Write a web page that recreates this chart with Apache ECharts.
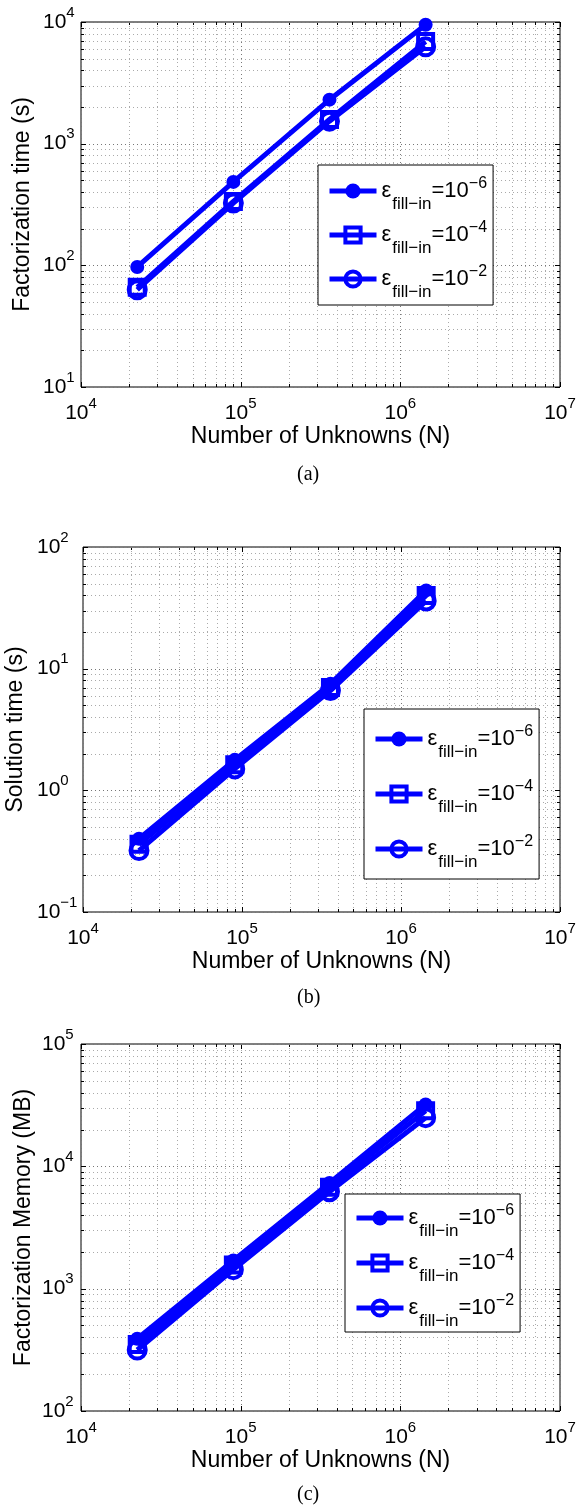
<!DOCTYPE html>
<html>
<head>
<meta charset="utf-8">
<script src="https://cdn.jsdelivr.net/npm/echarts@6/dist/echarts.min.js"></script>
<style>
html, body { margin: 0; padding: 0; background: #fff; }
#chart { width: 578px; height: 1507px; }
</style>
</head>
<body>
<div id="chart"></div>
<script>
// number of unknowns, same for every panel
var unknowns = [22500, 90000, 360000, 1440000];

// (a) factorization time (s)
var factTime6 = [97, 485, 2300, 9500];
var factTime4 = [66, 335, 1580, 6900];
var factTime2 = [63, 325, 1530, 6250];

// (b) solution time (s)
var solTime6 = [0.40, 1.78, 7.5, 44];
var solTime4 = [0.36, 1.62, 7.0, 40];
var solTime2 = [0.32, 1.50, 6.6, 36];

// (c) factorization memory (MB)
var memory6 = [390, 1700, 7300, 32000];
var memory4 = [350, 1560, 6750, 28500];
var memory2 = [315, 1430, 6200, 25000];

var seriesNames = ['fill6', 'fill4', 'fill2'];
var legendExp = ['\u22126', '\u22124', '\u22122'];
var minorSteps = [2, 3, 4, 5, 6, 7, 8, 9];

var BLUE = '#0000ff';
var FONT = 'Liberation Sans, Arial, Helvetica, sans-serif';

var panels = [
    { left: 81, top: 22, width: 479, height: 365, xExp: [4, 7], yExp: [1, 4],
      yName: 'Factorization time (s)', yNameGap: 45, yLabelMargin: 38,
      data: [factTime6, factTime4, factTime2],
      legend: { left: 318, top: 165, pad: 4, gap: 0 },
      caption: '(a)', captionTop: 465 },
    { left: 83, top: 547, width: 477, height: 365, xExp: [4, 7], yExp: [-1, 2],
      yName: 'Solution time (s)', yNameGap: 54, yLabelMargin: 46,
      data: [solTime6, solTime4, solTime2],
      legend: { left: 364, top: 709, pad: 8, gap: 11 },
      caption: '(b)', captionTop: 988 },
    { left: 81, top: 1044, width: 479, height: 367, xExp: [4, 7], yExp: [2, 5],
      yName: 'Factorization Memory (MB)', yNameGap: 44, yLabelMargin: 39,
      data: [memory6, memory4, memory2],
      legend: { left: 345, top: 1194, pad: 2, gap: 1 },
      caption: '(c)', captionTop: 1485 }
];

function powLabel(v) {
    var e = Math.round(Math.log10(v));
    return '{b|10}{s|' + (e < 0 ? '\u2212' + (-e) : e) + '}';
}

var labelRich = {
    b: { fontSize: 21, fontFamily: FONT, color: '#000', lineHeight: 34 },
    s: { fontSize: 15, fontFamily: FONT, color: '#000', lineHeight: 34, padding: [0, 0, 19, 0] }
};

function logTicks(range) {
    var out = [];
    for (var k = range[0]; k < range[1]; k++) {
        out.push([Math.pow(10, k), 1]);
        minorSteps.forEach(function (m) { out.push([m * Math.pow(10, k), 0]); });
    }
    out.push([Math.pow(10, range[1]), 1]);
    return out;
}

function gridSeries(gi, dir, ticks, other) {
    return {
        type: 'custom',
        xAxisIndex: gi,
        yAxisIndex: gi,
        silent: true,
        z: 1,
        data: ticks.map(function (t) {
            return dir === 'x' ? [t[0], other, t[1]] : [other, t[0], t[1]];
        }),
        renderItem: function (params, api) {
            var cs = params.coordSys;
            var major = api.value(2) === 1;
            var p = api.coord([api.value(0), api.value(1)]);
            var len = major ? 5 : 3;
            var grid = { stroke: major ? '#777' : '#aaa', lineWidth: 1, lineDash: [1, 3] };
            var tick = { stroke: '#000', lineWidth: 1 };
            var c;
            if (dir === 'x') {
                c = Math.round(p[0]) + 0.5;
                var yb = cs.y + cs.height;
                return { type: 'group', children: [
                    { type: 'line', shape: { x1: c, y1: cs.y, x2: c, y2: yb }, style: grid },
                    { type: 'line', shape: { x1: c, y1: yb, x2: c, y2: yb - len }, style: tick },
                    { type: 'line', shape: { x1: c, y1: cs.y, x2: c, y2: cs.y + len }, style: tick }
                ] };
            }
            c = Math.round(p[1]) + 0.5;
            var xr = cs.x + cs.width;
            return { type: 'group', children: [
                { type: 'line', shape: { x1: cs.x, y1: c, x2: xr, y2: c }, style: grid },
                { type: 'line', shape: { x1: cs.x, y1: c, x2: cs.x + len, y2: c }, style: tick },
                { type: 'line', shape: { x1: xr, y1: c, x2: xr - len, y2: c }, style: tick }
            ] };
        }
    };
}

var markerStyles = [
    { symbol: 'circle', symbolSize: 14, itemStyle: { color: BLUE, borderWidth: 0 } },
    { symbol: 'rect', symbolSize: 15, itemStyle: { color: 'rgba(0,0,0,0)', borderColor: BLUE, borderWidth: 4 } },
    { symbol: 'circle', symbolSize: 17, itemStyle: { color: 'rgba(0,0,0,0)', borderColor: BLUE, borderWidth: 4 } }
];

var legendItems = seriesNames.map(function (n, si) {
    return { name: n, itemStyle: markerStyles[si].itemStyle, lineStyle: { color: BLUE, width: 5 } };
});

var option = {
    animation: false,
    backgroundColor: '#fff',
    grid: [], xAxis: [], yAxis: [], series: [], legend: [], title: []
};

panels.forEach(function (p, gi) {
    option.grid.push({
        left: p.left, top: p.top, width: p.width, height: p.height,
        show: true, borderColor: '#000', borderWidth: 1, backgroundColor: 'transparent',
        containLabel: false, outerBoundsMode: 'none'
    });
    option.xAxis.push({
        type: 'log', logBase: 10, gridIndex: gi,
        min: Math.pow(10, p.xExp[0]), max: Math.pow(10, p.xExp[1]), splitNumber: 3,
        name: 'Number of Unknowns (N)', nameLocation: 'middle', nameGap: 38,
        nameMoveOverlap: false,
        nameTextStyle: { fontSize: 23, fontFamily: FONT, color: '#000', lineHeight: 24 },
        axisLine: { show: false }, axisTick: { show: false },
        splitLine: { show: false }, minorTick: { show: false },
        axisLabel: { formatter: powLabel, margin: 9.5, rich: labelRich, showMinLabel: true, showMaxLabel: true, hideOverlap: false }
    });
    option.yAxis.push({
        type: 'log', logBase: 10, gridIndex: gi,
        min: Math.pow(10, p.yExp[0]), max: Math.pow(10, p.yExp[1]), splitNumber: 3,
        name: p.yName, nameLocation: 'middle', nameGap: p.yNameGap,
        nameMoveOverlap: false,
        nameTextStyle: { fontSize: 23, fontFamily: FONT, color: '#000', lineHeight: 26 },
        axisLine: { show: false }, axisTick: { show: false },
        splitLine: { show: false }, minorTick: { show: false },
        axisLabel: { formatter: powLabel, margin: p.yLabelMargin, align: 'left', rich: labelRich, showMinLabel: true, showMaxLabel: true, hideOverlap: false }
    });

    option.series.push(gridSeries(gi, 'x', logTicks(p.xExp), Math.pow(10, p.yExp[0])));
    option.series.push(gridSeries(gi, 'y', logTicks(p.yExp), Math.pow(10, p.xExp[0])));

    p.data.forEach(function (vals, si) {
        var m = markerStyles[si];
        option.series.push({
            type: 'line', name: seriesNames[si], xAxisIndex: gi, yAxisIndex: gi,
            data: unknowns.map(function (n, i) { return [n, vals[i]]; }),
            symbol: m.symbol, symbolSize: m.symbolSize, showSymbol: true,
            itemStyle: m.itemStyle,
            lineStyle: { color: BLUE, width: 5 },
            emphasis: { disabled: true },
            z: 3 + si
        });
    });

    option.legend.push({
        data: legendItems, orient: 'vertical', selectedMode: false,
        left: p.legend.left, top: p.legend.top,
        padding: [p.legend.pad, 6, p.legend.pad, 9], itemGap: p.legend.gap,
        itemWidth: 47, itemHeight: 19,
        backgroundColor: '#fff', borderColor: '#000', borderWidth: 1, borderRadius: 0,
        formatter: function (name) {
            return '{e|\u03b5}{sub|fill\u2212in}{eq|=10}{sup|' + legendExp[seriesNames.indexOf(name)] + '}';
        },
        textStyle: {
            color: '#000', fontFamily: FONT, lineHeight: 44,
            rich: {
                e: { fontSize: 22, fontFamily: FONT, color: '#000', lineHeight: 44 },
                sub: { fontSize: 17, fontFamily: FONT, color: '#000', lineHeight: 44, verticalAlign: 'bottom', padding: [0, 0, 0, 1] },
                eq: { fontSize: 22, fontFamily: FONT, color: '#000', lineHeight: 44 },
                sup: { fontSize: 16, fontFamily: FONT, color: '#000', lineHeight: 44, padding: [0, 0, 14.5, 0] }
            }
        }
    });

    option.title.push({
        text: p.caption, left: 297, top: p.captionTop, padding: 0,
        textStyle: { fontFamily: 'Liberation Serif, Times New Roman, serif', fontSize: 20, fontWeight: 'normal', color: '#000' }
    });
});

var myChart = echarts.init(document.getElementById('chart'), null, { renderer: 'canvas' });
myChart.setOption(option);
</script>
</body>
</html>
